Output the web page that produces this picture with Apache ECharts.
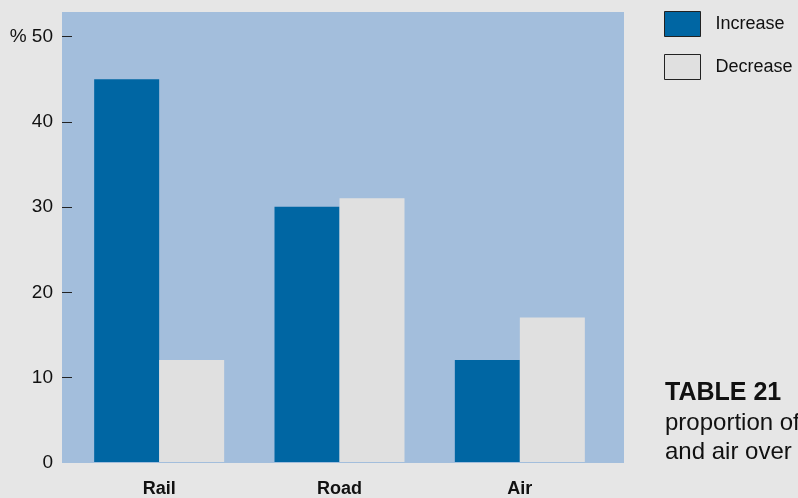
<!DOCTYPE html>
<html>
<head>
<meta charset="utf-8">
<script src="https://cdn.jsdelivr.net/npm/echarts@6/dist/echarts.min.js"></script>
<style>
  html, body { margin: 0; padding: 0; background: #e6e6e6; }
  #chart { width: 798px; height: 498px; }
</style>
</head>
<body>
<div id="chart"></div>
<script>
// Modes of transport and share (%) reporting an increase / decrease
const categories = ['Rail', 'Road', 'Air'];
const increaseValues = [45, 30, 12];
const decreaseValues = [12, 31, 17];
const yTickValues = [0, 10, 20, 30, 40, 50];
const seriesNames = ['Increase', 'Decrease'];
const tableTitle = 'TABLE 21';
const tableLines = ['proportion of', 'and air over'];

const FONT = '"Liberation Sans", Arial, Helvetica, sans-serif';
const Y_MAX = 52.9;

const chart = echarts.init(document.getElementById('chart'), null, { renderer: 'canvas' });

chart.setOption({
  backgroundColor: '#e6e6e6',
  animation: false,
  textStyle: { fontFamily: FONT },
  grid: [
    // shaded plotting panel carrying the value axis
    { left: 62, right: 174, top: 12, bottom: 35, show: true, backgroundColor: '#a3bedc', borderWidth: 0 },
    // bars
    { left: 69, right: 188, top: 12, bottom: 35 }
  ],
  xAxis: [
    { gridIndex: 0, type: 'category', data: categories, show: false },
    {
      gridIndex: 1, type: 'category', data: categories,
      axisLine: { show: false }, axisTick: { show: false },
      axisLabel: { color: '#111', fontWeight: 'bold', fontSize: 18, margin: 18, fontFamily: FONT }
    }
  ],
  yAxis: [
    {
      gridIndex: 0, type: 'value', min: 0, max: Y_MAX,
      splitLine: { show: false },
      axisLine: { show: false },
      axisTick: { show: true, inside: true, length: 10, customValues: [10, 20, 30, 40, 50], lineStyle: { color: '#222', width: 1 } },
      axisLabel: {
        customValues: yTickValues,
        color: '#111', fontSize: 19, margin: 9, fontFamily: FONT,
        formatter: v => (v === 50 ? '% 50' : String(v))
      }
    },
    { gridIndex: 1, type: 'value', min: 0, max: Y_MAX, show: false, splitLine: { show: false } }
  ],
  legend: {
    orient: 'vertical', left: 664, top: 11, padding: 0,
    itemWidth: 36, itemHeight: 25, itemGap: 17,
    icon: 'rect',
    data: seriesNames,
    itemStyle: { borderColor: '#222', borderWidth: 1 },
    textStyle: { color: '#111', fontSize: 18, fontFamily: FONT, padding: [0, 0, 0, 10] }
  },
  graphic: [
    {
      type: 'text', x: 665, y: 393,
      style: { text: tableTitle, font: 'bold 25px ' + FONT, fill: '#111', verticalAlign: 'middle' }
    },
    {
      type: 'text', x: 665, y: 423,
      style: { text: tableLines[0], font: '24px ' + FONT, fill: '#111', verticalAlign: 'middle' }
    },
    {
      type: 'text', x: 665, y: 452,
      style: { text: tableLines[1], font: '24px ' + FONT, fill: '#111', verticalAlign: 'middle' }
    }
  ],
  series: [
    {
      name: seriesNames[0], type: 'bar', xAxisIndex: 1, yAxisIndex: 1,
      data: increaseValues, barWidth: 65, barGap: '0%',
      itemStyle: { color: '#0066a3' }
    },
    {
      name: seriesNames[1], type: 'bar', xAxisIndex: 1, yAxisIndex: 1,
      data: decreaseValues, barWidth: 65, barGap: '0%',
      itemStyle: { color: '#e0e0e0' }
    }
  ]
});
</script>
</body>
</html>
